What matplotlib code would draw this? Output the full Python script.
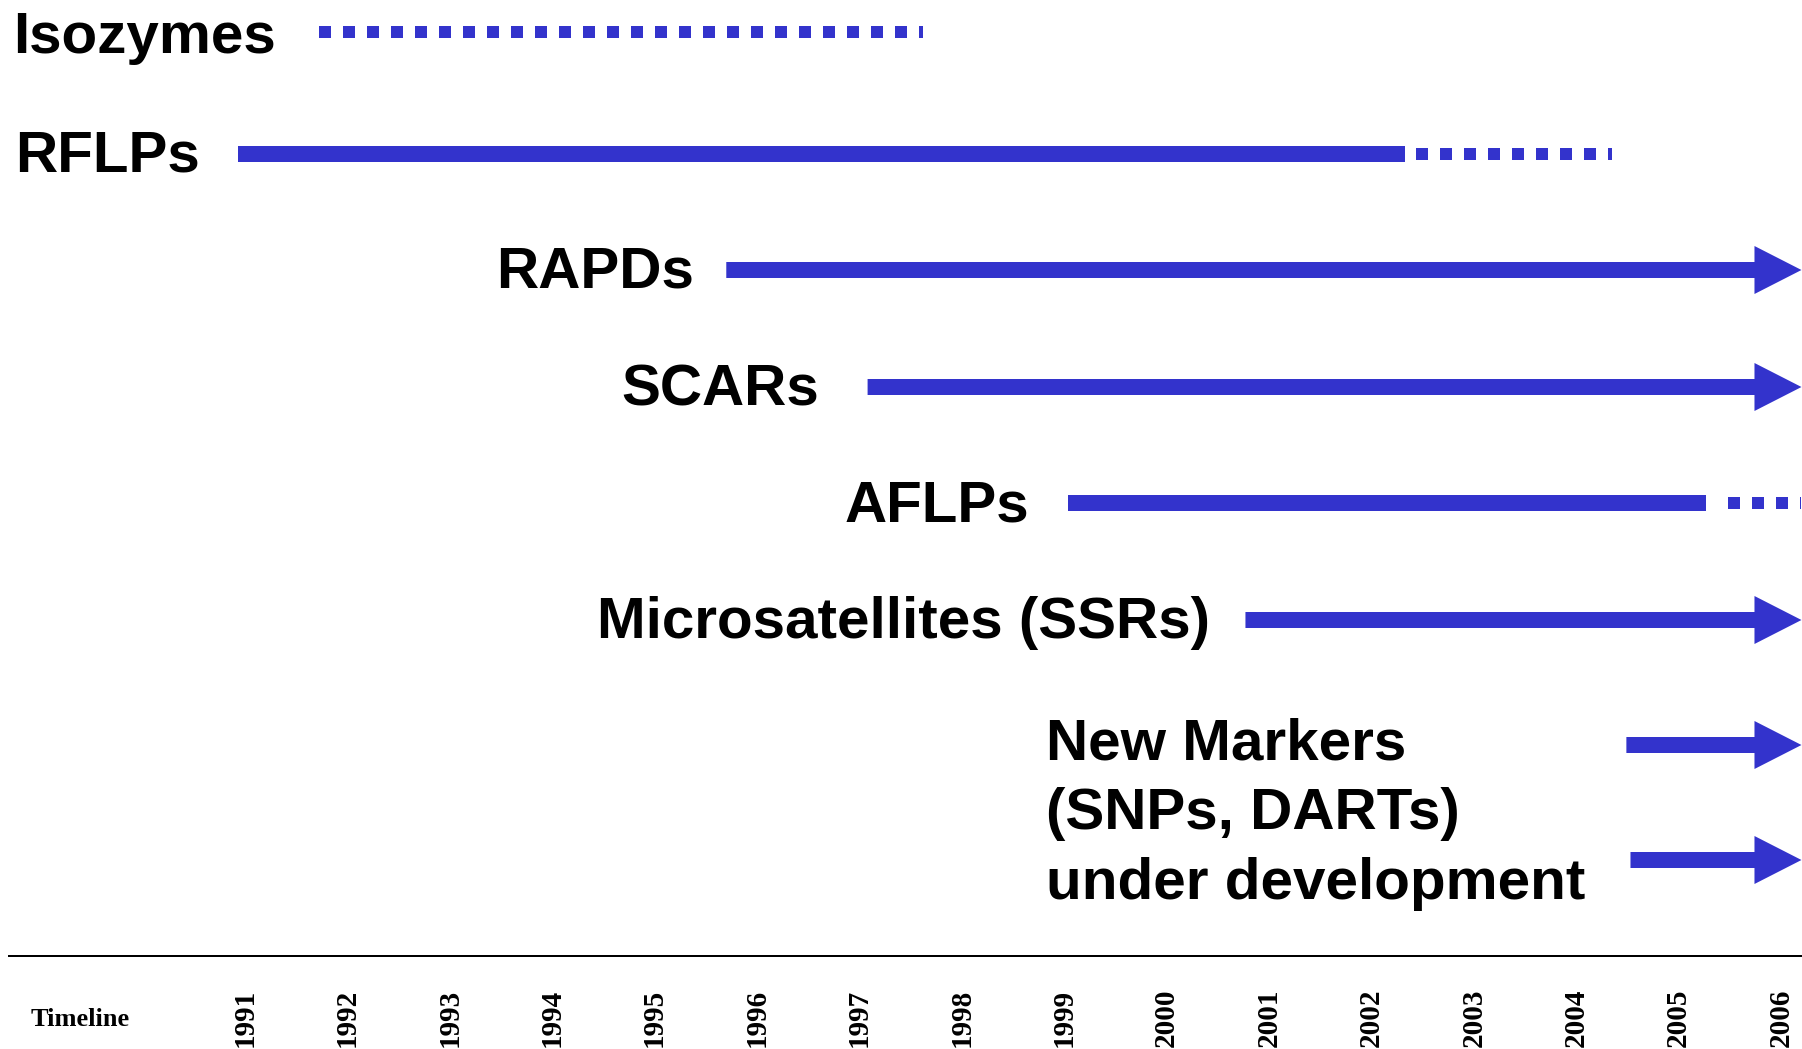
import matplotlib.pyplot as plt
import matplotlib.transforms as mtransforms
from matplotlib.patches import FancyArrow
import numpy as np

# ---- data (years) ----
markers = ["Isozymes", "RFLPs", "RAPDs", "SCARs", "AFLPs",
           "Microsatellites (SSRs)", "New Markers 1", "New Markers 2"]
solid_start = [np.nan, 1990.93, 1995.70, 1997.08, 1999.04, 2000.77, 2004.49, 2004.53]
solid_end = [np.nan, 2002.33, 2006.20, 2006.20, 2005.27, 2006.20, 2006.20, 2006.20]
dotted_start = [1991.72, 2002.44, np.nan, np.nan, 2005.48, np.nan, np.nan, np.nan]
dotted_end = [1997.62, 2004.35, np.nan, np.nan, 2006.20, np.nan, np.nan, np.nan]
has_arrow = [False, False, True, True, False, True, True, True]

label_texts = ["Isozymes", "RFLPs", "RAPDs", "SCARs", "AFLPs",
               "Microsatellites (SSRs)"]
new_marker_lines = ["New Markers", "(SNPs, DARTs)", "under development"]
years = list(range(1991, 2007))

# ---- layout (pixels) ----
W, H = 1802, 1049
row_y = [32, 154, 270, 387, 503, 620, 745, 860]
label_right = [276, 200, 694, 819, 1029, 1210]
label_base = [53, 171, 288, 405, 521, 638]
new_base = [760, 829, 899]
blue = "#3333cc"

fig = plt.figure(figsize=(W / 100, H / 100), dpi=100)
ax = fig.add_axes([0, 0, 1, 1])
ax.set_xlim(1991 - 245 / 102.4, 1991 + (W - 245) / 102.4)
ax.set_ylim(H, 0)
ax.axis("off")

px = 72 / 100  # points per pixel

for i, name in enumerate(markers):
    y = row_y[i]
    if not np.isnan(solid_start[i]):
        if has_arrow[i]:
            arr = FancyArrow(solid_start[i], y, solid_end[i] - solid_start[i], 0,
                             width=16, head_width=48, head_length=47 / 102.4,
                             length_includes_head=True, color=blue, lw=0)
            ax.add_patch(arr)
        else:
            ax.plot([solid_start[i], solid_end[i]], [y, y], color=blue,
                    lw=16 * px, solid_capstyle="butt")
    if not np.isnan(dotted_start[i]):
        ax.plot([dotted_start[i], dotted_end[i]], [y, y], color=blue,
                lw=12 * px, dashes=(1, 1), dash_capstyle="butt")

trans = mtransforms.blended_transform_factory(ax.transAxes, ax.transData)
lab_font = dict(family="Liberation Sans", weight="bold", fontsize=42)
for i, txt in enumerate(label_texts):
    ax.text(label_right[i] / W, label_base[i], txt, transform=trans,
            ha="right", va="baseline", **lab_font)

for j, line in enumerate(new_marker_lines):
    ax.text(1046 / W, new_base[j], line, transform=trans,
            ha="left", va="baseline", **lab_font)

# timeline axis
ax.axhline(956, xmin=9 / W, xmax=1, color="black", lw=2 * px)
ax.text(31 / W, 1020, "Timeline", transform=trans, ha="left", va="center",
        family="Liberation Serif", weight="bold", fontsize=19)
for yr in years:
    ax.text(yr, 1018, str(yr), rotation=90, ha="center", va="center",
            family="Liberation Serif", weight="bold", fontsize=21)

fig.savefig("out.png", dpi=100)
